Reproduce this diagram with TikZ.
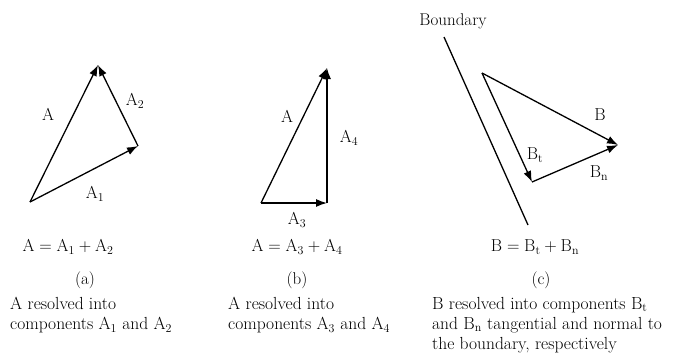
\documentclass[tikz,border=0pt]{standalone}
\usepackage{amsmath}
\usepackage{tikz}
\usetikzlibrary{arrows.meta}

\begin{document}
\begin{tikzpicture}[x=1pt,y=-1pt,
  vec/.style={line width=1.3pt,-{Latex[length=11pt,width=8pt]}},
  lbl/.style={inner sep=0pt,font=\fontsize{17}{20}\selectfont},
  desc/.style={inner sep=0pt,anchor=north west,align=left,font=\fontsize{17.5}{20}\selectfont}]
\useasboundingbox (0,0) rectangle (679,359);
% (a)
\coordinate (a0) at (30,202);
\coordinate (a1) at (138,146);
\coordinate (a2) at (98,65);
\draw[vec] (a0)--(a2);
\draw[vec] (a0)--(a1);
\draw[vec] (a1)--(a2);
\node[lbl] (labA) at (48,115) {$\mathrm{A}$};
\node[lbl] (labAtwo) at (135,101) {$\mathrm{A}_2$};
\node[lbl] (labAone) at (95,194) {$\mathrm{A}_1$};
\node[lbl] (eqA) at (68,247) {$\mathrm{A}=\mathrm{A}_1+\mathrm{A}_2$};
\node[lbl] (capA) at (85,280) {(a)};
\node[desc] (descA) at (10,297) {A resolved into\\components A$_1$ and A$_2$};
% (b)
\coordinate (b0) at (261,203);
\coordinate (b1) at (327,203);
\coordinate (b2) at (327,68);
\draw[vec] (b0)--(b2);
\draw[vec] (b0)--(b1);
\draw[vec] (b1)--(b2);
\node[lbl] (labB) at (287,117) {$\mathrm{A}$};
\node[lbl] (labBfour) at (349,138) {$\mathrm{A}_4$};
\node[lbl] (labBthree) at (297,220) {$\mathrm{A}_3$};
\node[lbl] (eqB) at (297,247) {$\mathrm{A}=\mathrm{A}_3+\mathrm{A}_4$};
\node[lbl] (capB) at (297,280) {(b)};
\node[desc] (descB) at (228,297) {A resolved into\\components A$_3$ and A$_4$};
% (c)
\node[lbl] (bnd) at (453,21) {Boundary};
\coordinate (w0) at (444,37);
\coordinate (w1) at (528,225);
\draw[line width=1.3pt] (w0)--(w1);
\coordinate (c0) at (482,73);
\coordinate (c1) at (618,145);
\coordinate (c2) at (532,182);
\draw[vec] (c0)--(c1);
\draw[vec] (c0)--(c2);
\draw[vec] (c2)--(c1);
\node[lbl] (labC) at (600,115) {$\mathrm{B}$};
\node[lbl] (labCt) at (535,155) {$\mathrm{B}_\mathrm{t}$};
\node[lbl] (labCn) at (599,173) {$\mathrm{B}_\mathrm{n}$};
\node[lbl] (eqC) at (535,247) {$\mathrm{B}=\mathrm{B}_\mathrm{t}+\mathrm{B}_\mathrm{n}$};
\node[lbl] (capC) at (541,280) {(c)};
\node[desc] (descC) at (432,297) {B resolved into components B$_\mathrm{t}$\\and B$_\mathrm{n}$ tangential and normal to\\the boundary, respectively};
\end{tikzpicture}
\end{document}
